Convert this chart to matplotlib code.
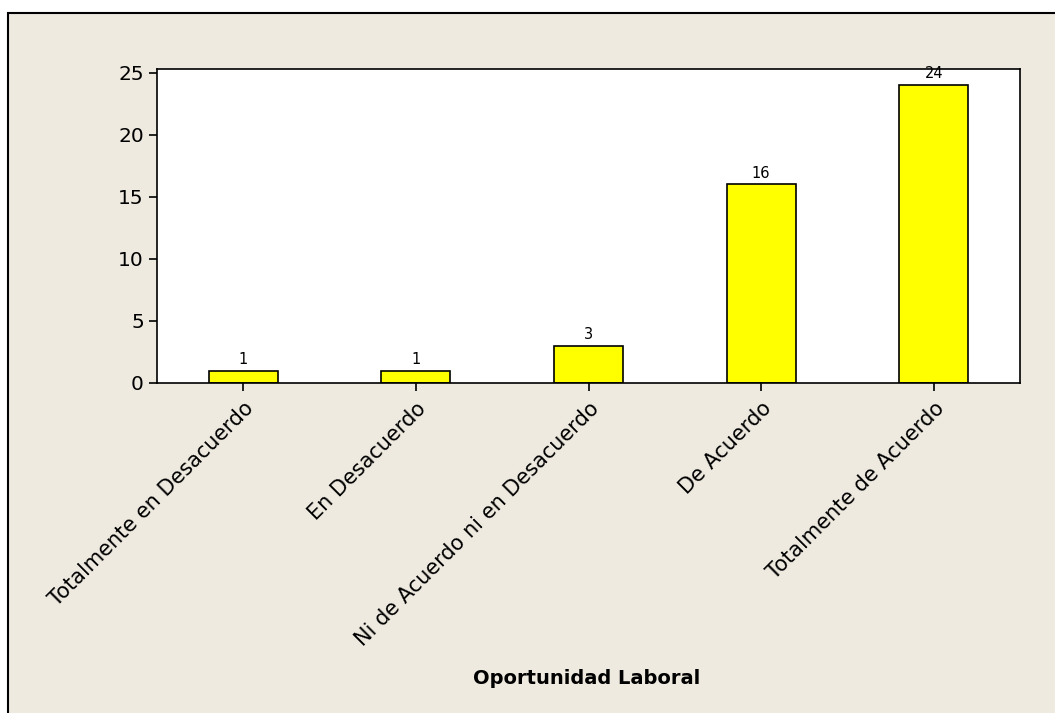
import numpy as np
import matplotlib.pyplot as plt
from matplotlib.patches import Rectangle

# Data
categories = ["Totalmente en Desacuerdo", "En Desacuerdo",
              "Ni de Acuerdo ni en Desacuerdo", "De Acuerdo",
              "Totalmente de Acuerdo"]
counts = [1, 1, 3, 16, 24]
y_ticks = [0, 5, 10, 15, 20, 25]

bg = "#EEEAE0"

fig = plt.figure(figsize=(10.55, 7.13), dpi=100)
fig.patch.set_facecolor("white")

# beige panel with border on left/top only (runs off right and bottom edges)
panel = Rectangle((8 / 1055, -0.1), 1.2, 1.1 - 13 / 713, transform=fig.transFigure,
                  facecolor=bg, edgecolor="black", linewidth=1.5, zorder=-10)
fig.patches.append(panel)

ax = fig.add_axes([157 / 1055, 1 - 383 / 713, (1020 - 157) / 1055, (383 - 69) / 713])
ax.set_facecolor("white")

x = np.arange(len(categories))
ax.bar(x, counts, width=0.4, color="#FFFF00", edgecolor="black", linewidth=1.2)

for xi, c in zip(x, counts):
    ax.text(xi, c + 0.3, str(c), ha="center", va="bottom", fontsize=10.5)

ax.set_xlim(-0.5, 4.5)
ax.set_ylim(0, 25.3)
ax.set_yticks(y_ticks)
ax.set_xticks(x)
ax.set_xticklabels(categories, rotation=45, ha="right", rotation_mode="anchor",
                   fontsize=15)
ax.tick_params(axis="y", labelsize=14.5, length=6, width=1.2, direction="out")
ax.tick_params(axis="x", length=6, width=1.2, direction="out", pad=5)
for s in ax.spines.values():
    s.set_linewidth(1.2)

fig.text(587 / 1055, 1 - 679 / 713, "Oportunidad Laboral", ha="center",
         va="center", fontsize=14, fontweight="bold")

fig.savefig("out.png", dpi=100)
